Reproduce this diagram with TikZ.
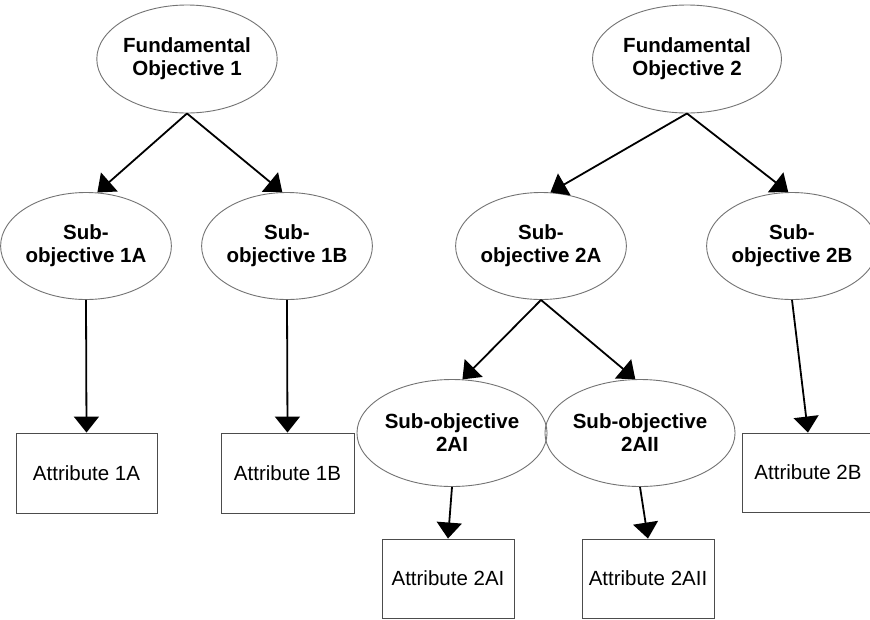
\documentclass[tikz,border=0pt]{standalone}
\usepackage{fontspec}
\setmainfont{Liberation Sans}
\usetikzlibrary{shapes.geometric,arrows.meta}
\begin{document}
\begin{tikzpicture}[x=1pt,y=-1pt,
  obj/.style={ellipse,draw=black!55,line width=0.9pt,inner sep=0pt,align=center,
    font=\fontsize{20.5}{23}\selectfont\bfseries},
  attr/.style={rectangle,draw=black!70,line width=0.9pt,inner sep=0pt,
    font=\fontsize{20.5}{23}\selectfont},
  conn/.style={line width=1.8pt,-{Triangle[width=25pt,length=16pt]}}]
\useasboundingbox (0,0) rectangle (870,619);
\fill[white] (0,0) rectangle (870,619);
% objectives
\node[obj,minimum width=176pt,minimum height=108pt] (fo1) at (187,59) {Fundamental\\Objective 1};
\node[obj,minimum width=189pt,minimum height=108pt] (fo2) at (687,59) {Fundamental\\Objective 2};
\node[obj,minimum width=162pt,minimum height=107pt] (s1a) at (86,246) {Sub-\\objective 1A};
\node[obj,minimum width=161pt,minimum height=107pt] (s1b) at (287,246) {Sub-\\objective 1B};
\node[obj,minimum width=162pt,minimum height=107pt] (s2a) at (541,246) {Sub-\\objective 2A};
\node[obj,minimum width=158pt,minimum height=107pt] (s2b) at (792,246) {Sub-\\objective 2B};
\node[obj,minimum width=180pt,minimum height=107pt] (s2ai) at (452,433) {Sub-objective\\2AI};
\node[obj,minimum width=175pt,minimum height=107pt] (s2aii) at (640,433) {Sub-objective\\2AII};
% attributes
\node[attr,minimum width=141pt,minimum height=80pt] (a1a) at (86.5,473) {Attribute 1A};
\node[attr,minimum width=133pt,minimum height=80pt] (a1b) at (287.5,473) {Attribute 1B};
\node[attr,minimum width=132pt,minimum height=79pt] (a2ai) at (448,578.5) {Attribute 2AI};
\node[attr,minimum width=132pt,minimum height=79pt] (a2aii) at (648,578.5) {Attribute 2AII};
\node[attr,minimum width=132pt,minimum height=79pt] (a2b) at (808,472.5) {Attribute 2B};
% connectors
\draw[conn] (fo1.south) -- (s1a.78);
\draw[conn] (fo1.south) -- (s1b.95);
\draw[conn] (fo2.south) -- (s2a.80);
\draw[conn] (fo2.south) -- (s2b.94);
\draw[conn] (s2a.south) -- (s2ai.79);
\draw[conn] (s2a.south) -- (s2aii.95);
\draw[conn] (s1a.south) -- (a1a.north);
\draw[conn] (s1b.south) -- (a1b.north);
\draw[conn] (s2ai.south) -- (a2ai.north);
\draw[conn] (s2aii.south) -- (a2aii.north);
\draw[conn] (s2b.south) -- (a2b.north);
\end{tikzpicture}
\end{document}
